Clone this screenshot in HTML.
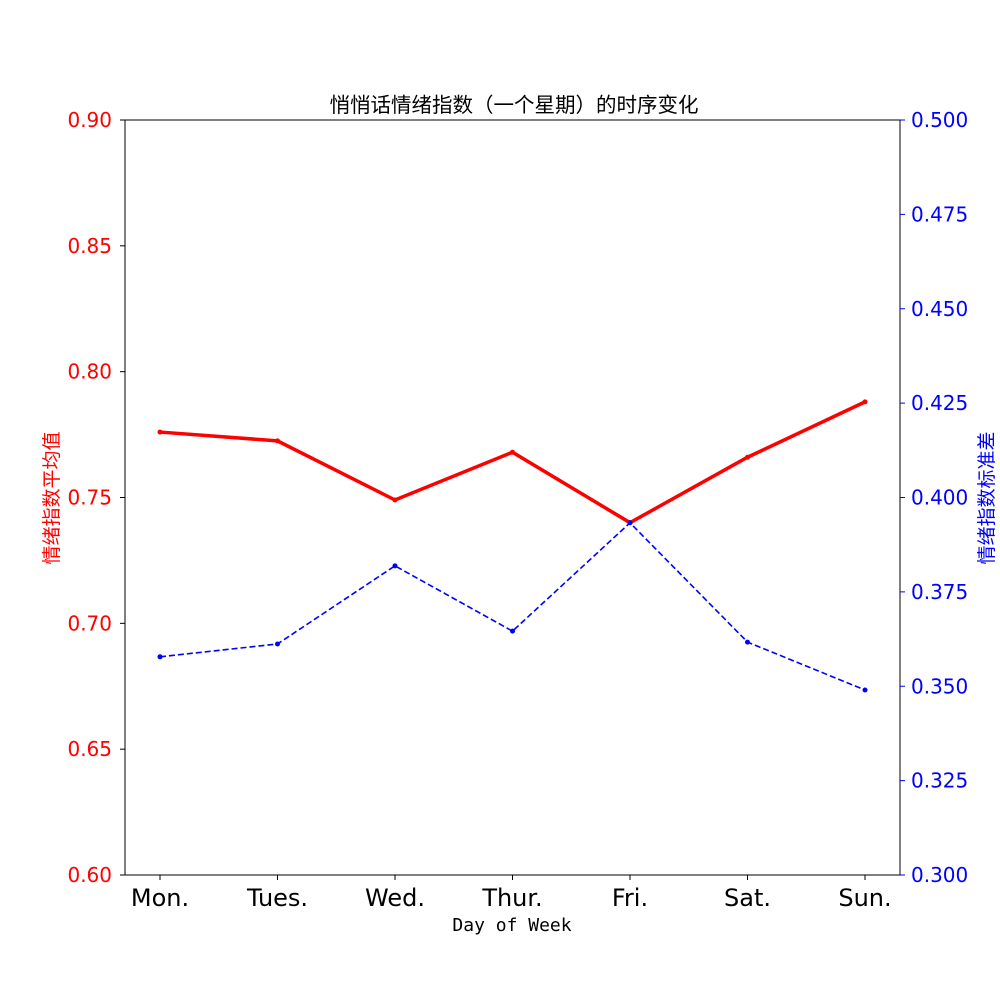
<!DOCTYPE html>
<html><head><meta charset="utf-8"><style>
body{margin:0;background:#fff}
svg text{font-family:"DejaVu Sans","Liberation Sans","Noto Sans CJK SC",sans-serif}
</style></head><body>
<svg id="chart" width="1000" height="1000" xmlns="http://www.w3.org/2000/svg">
<rect width="1000" height="1000" fill="#fff"/>
<g id="g"></g>
</svg>
<script>
const categories=["Mon.","Tues.","Wed.","Thur.","Fri.","Sat.","Sun."];
const meanValues=[0.776,0.7725,0.749,0.768,0.740,0.766,0.788];
const stdValues=[0.3578,0.3612,0.3819,0.3646,0.3933,0.3617,0.349];
const leftTicks=["0.60","0.65","0.70","0.75","0.80","0.85","0.90"];
const rightTicks=["0.300","0.325","0.350","0.375","0.400","0.425","0.450","0.475","0.500"];
const L=125,R=900,T=120,B=875;
const x=i=>160+i*(865-160)/(categories.length-1);
const yl=v=>B-(v-0.6)/0.3*(B-T);
const yr=v=>B-(v-0.3)/0.2*(B-T);
const g=document.getElementById('g');const NS="http://www.w3.org/2000/svg";
function mk(t,a,txt){const e=document.createElementNS(NS,t);for(const k in a)e.setAttribute(k,a[k]);if(txt!==undefined)e.textContent=txt;g.appendChild(e);return e;}
let e;
e=mk('rect',{x:L,y:T,width:R-L,height:B-T,fill:'none',stroke:'#000','stroke-width':1});


leftTicks.forEach(t=>{const y=yl(parseFloat(t));
e=mk('line',{x1:L-5,x2:L,y1:y,y2:y,stroke:'#000'});


e=mk('text',{x:L-13,y:y+7,'text-anchor':'end','font-size':20,fill:'red'},t);

});
rightTicks.forEach(t=>{const y=yr(parseFloat(t));
e=mk('line',{x1:R,x2:R+5,y1:y,y2:y,stroke:'blue'});


e=mk('text',{x:R+11,y:y+7,'font-size':20,fill:'blue'},t);

});
categories.forEach((c,i)=>{
e=mk('line',{x1:x(i),x2:x(i),y1:B,y2:B+5,stroke:'#000'});


e=mk('text',{x:x(i),y:B+31,'text-anchor':'middle','font-size':24,fill:'#000'},c);

});
e=mk('polyline',{points:meanValues.map((v,i)=>x(i)+','+yl(v)).join(' '),fill:'none',stroke:'red','stroke-width':3.5});


meanValues.forEach((v,i)=>{e=mk('circle',{cx:x(i),cy:yl(v),r:2.5,fill:'red'});

});
e=mk('polyline',{points:stdValues.map((v,i)=>x(i)+','+yr(v)).join(' '),fill:'none',stroke:'blue','stroke-width':1.6,'stroke-dasharray':'6,3'});


stdValues.forEach((v,i)=>{e=mk('circle',{cx:x(i),cy:yr(v),r:2.5,fill:'blue'});

});
e=mk('text',{x:514,y:112,'text-anchor':'middle','font-size':20.5,fill:'#000'},'悄悄话情绪指数（一个星期）的时序变化');


e=mk('text',{x:512,y:931,'text-anchor':'middle','font-size':18,fill:'#000',style:'font-family:"DejaVu Sans Mono","Liberation Mono",monospace'},'Day of Week');


e=mk('text',{x:0,y:0,'text-anchor':'middle','font-size':19,fill:'red',transform:'translate(58,498) rotate(-90)'},'情绪指数平均值');


e=mk('text',{x:0,y:0,'text-anchor':'middle','font-size':19,fill:'blue',transform:'translate(993,498) rotate(-90)'},'情绪指数标准差');


</script>
</body></html>
